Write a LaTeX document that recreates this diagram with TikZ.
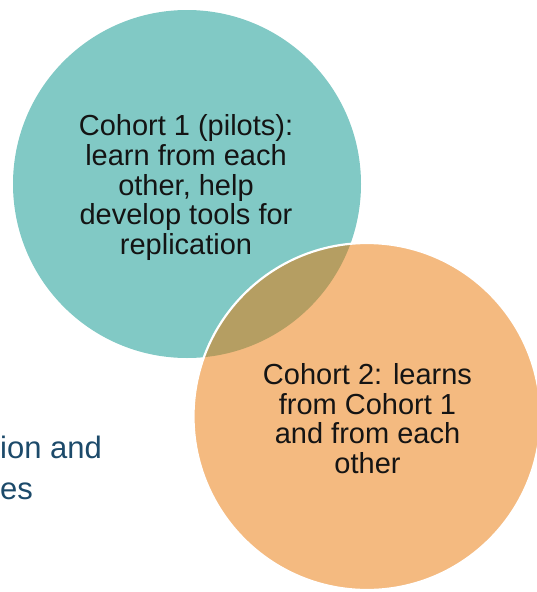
\documentclass[tikz,border=0pt]{standalone}
\usepackage{fontspec}
\setmainfont{Liberation Sans}
\definecolor{cohortone}{RGB}{129,201,197}
\definecolor{cohorttwo}{RGB}{244,186,128}
\definecolor{overlap}{RGB}{181,158,98}
\definecolor{bodytext}{RGB}{20,20,20}
\definecolor{sidetext}{RGB}{28,74,106}
\begin{document}
\begin{tikzpicture}[x=1pt,y=-1pt,
  bubbletext/.style={align=center,inner sep=0pt,text=bodytext,
    font=\fontsize{29}{29.6}\selectfont},
  sidelabel/.style={anchor=base west,inner sep=0pt,text=sidetext,
    font=\fontsize{31}{32}\selectfont}]
\useasboundingbox (0,0) rectangle (536,592);
% the two cohort circles
\fill[cohortone] (187,184) circle (174);
\fill[cohorttwo] (367,416.5) circle (173.5);
% shared region of the two cohorts
\begin{scope}
  \clip (367,416.5) circle (173.5);
  \fill[overlap] (187,184) circle (174);
\end{scope}
\draw[white,line width=2.2pt] (367,416.5) circle (173.5);
% labels
\node[bubbletext] (one) at (186,187.5) {Cohort 1 (pilots):\\learn from each\\other, help\\develop tools for\\replication};
\node[bubbletext] (two) at (367.5,418.5) {Cohort 2: learns\\from Cohort 1\\and from each\\other};
\node[sidelabel] (sideA) at (0,458) {ion and};
\node[sidelabel] (sideB) at (0,499) {es};
\end{tikzpicture}
\end{document}
